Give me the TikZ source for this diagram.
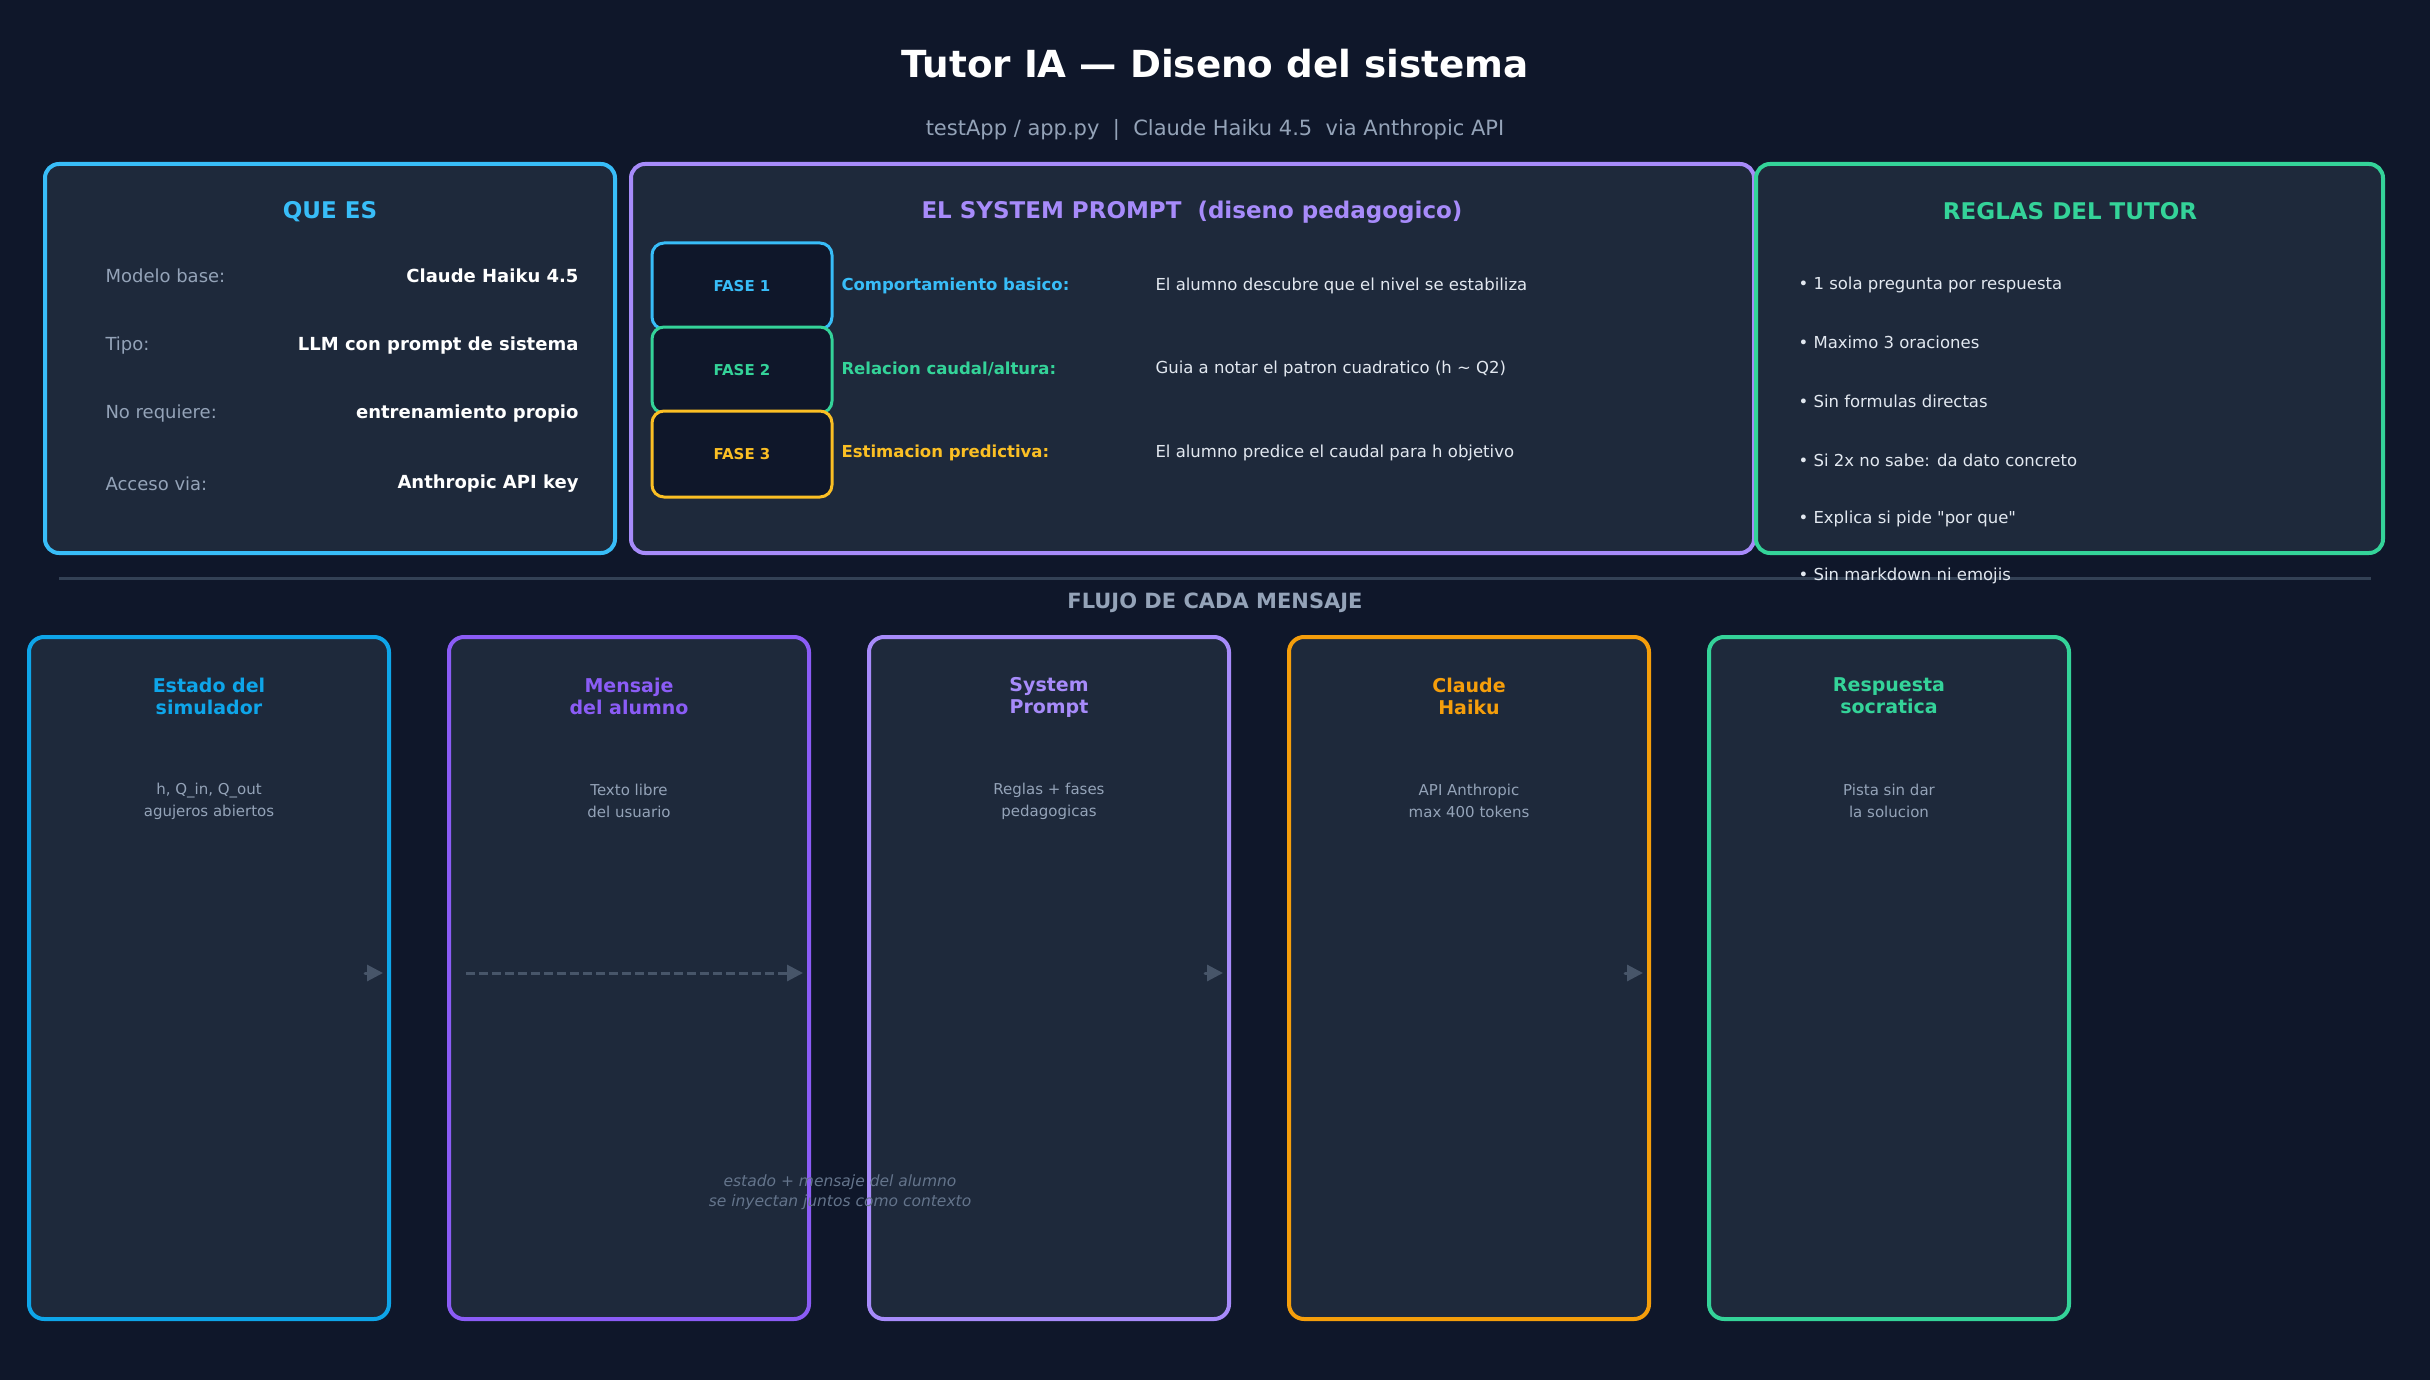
\documentclass[tikz,border=0pt]{standalone}
\usepackage{fontspec}
\setmainfont{DejaVu Sans}[Ligatures=TeXOff]
\usetikzlibrary{arrows.meta,positioning,calc}

\definecolor{bgdark}{HTML}{0F172A}
\definecolor{panelbg}{HTML}{1E293B}
\definecolor{skyc}{HTML}{38BDF8}
\definecolor{skyd}{HTML}{0EA5E9}
\definecolor{violetc}{HTML}{A78BFA}
\definecolor{violetd}{HTML}{8B5CF6}
\definecolor{greenc}{HTML}{34D399}
\definecolor{amberc}{HTML}{FBBF24}
\definecolor{amberd}{HTML}{F59E0B}
\definecolor{mutedc}{HTML}{94A3B8}
\definecolor{lightc}{HTML}{E2E8F0}
\definecolor{rulec}{HTML}{334155}
\definecolor{arrowc}{HTML}{475569}
\definecolor{notec}{HTML}{64748B}

\newcommand{\fs}[1]{\fontsize{#1}{#1}\selectfont}

\begin{document}
\begin{tikzpicture}[x=1pt,y=-1pt,line cap=round,line join=round,
    panel/.style={draw=#1,fill=panelbg,line width=4pt,rounded corners=14pt,inner sep=0pt},
    fasebox/.style={draw=#1,fill=bgdark,line width=3pt,rounded corners=12pt,inner sep=0pt,
        minimum width=180pt,minimum height=86pt,text=#1,font=\bfseries\fs{15}},
    flowbox/.style={draw=#1,fill=panelbg,line width=4pt,rounded corners=15pt,inner sep=0pt,
        minimum width=360pt,minimum height=682pt},
    ptitle/.style={font=\bfseries\fs{23},text=#1},
    keytxt/.style={anchor=west,font=\fs{18},text=mutedc},
    valtxt/.style={anchor=east,font=\bfseries\fs{18},text=white},
    fasename/.style={anchor=west,font=\bfseries\fs{16.5},text=#1},
    fasedesc/.style={anchor=west,font=\fs{16.5},text=lightc},
    rule/.style={anchor=west,font=\fs{16.5},text=lightc},
    ftitle/.style={align=center,font=\bfseries\fontsize{19}{22}\selectfont,text=#1},
    fsub/.style={align=center,font=\fontsize{15}{22}\selectfont,text=mutedc},
    flow/.style={draw=arrowc,line width=3pt,-{Triangle[length=16pt,width=16pt]}}]

% background
\fill[bgdark] (0,0) rectangle (2430,1380);
\useasboundingbox (0,0) rectangle (2430,1380);

% header
\node[font=\bfseries\fs{37.3},text=white] (title) at (1215,64) {Tutor IA — Diseno del sistema};
\node[font=\fs{21},text=mutedc] (subtitle) at (1215,130) {testApp / app.py \ | \ Claude Haiku 4.5 \ via Anthropic API};

% top row panels
\node[panel=skyc,minimum width=570pt,minimum height=389pt] (quees) at (330,358.5) {};
\node[panel=violetc,minimum width=1123pt,minimum height=389pt] (prompt) at (1192.5,358.5) {};
\node[panel=greenc,minimum width=627pt,minimum height=389pt] (reglas) at (2069.5,358.5) {};

% que es
\node[ptitle=skyc] (quees-t) at (330,212) {QUE ES};
\node[keytxt] (k1) at (102,276) {Modelo base:};
\node[valtxt] (v1) at (582,276) {Claude Haiku 4.5};
\node[keytxt] (k2) at (102,346) {Tipo:};
\node[valtxt] (v2) at (582,346) {LLM con prompt de sistema};
\node[keytxt] (k3) at (102,414) {No requiere:};
\node[valtxt] (v3) at (582,414) {entrenamiento propio};
\node[keytxt] (k4) at (102,484) {Acceso via:};
\node[valtxt] (v4) at (582,484) {Anthropic API key};

% system prompt with the three phases
\node[ptitle=violetc] (prompt-t) at (1192,212) {EL SYSTEM PROMPT \ (diseno pedagogico)};
\node[fasebox=skyc] (f1) at (742,286) {FASE 1};
\node[fasebox=greenc] (f2) at (742,370) {FASE 2};
\node[fasebox=amberc] (f3) at (742,454) {FASE 3};
\node[fasename=skyc] (n1) at (838,285.5) {Comportamiento basico:};
\node[fasename=greenc] (n2) at (838,368.5) {Relacion caudal/altura:};
\node[fasename=amberc] (n3) at (838,452.5) {Estimacion predictiva:};
\node[fasedesc] (d1) at (1152,285.5) {El alumno descubre que el nivel se estabiliza};
\node[fasedesc] (d2) at (1152,368.5) {Guia a notar el patron cuadratico (h \textasciitilde{} Q2)};
\node[fasedesc] (d3) at (1152,452.5) {El alumno predice el caudal para h objetivo};

% tutor rules
\node[ptitle=greenc] (reglas-t) at (2070,211) {REGLAS DEL TUTOR};
\node[rule] (r1) at (1795,285) {• 1 sola pregunta por respuesta};
\node[rule] (r2) at (1795,342) {• Maximo 3 oraciones};
\node[rule] (r3) at (1795,401) {• Sin formulas directas};
\node[rule] (r4) at (1795,460) {• Si 2x no sabe: da dato concreto};
\node[rule] (r5) at (1795,519) {• Explica si pide "por que"};

% divider
\draw[rulec,line width=3pt,line cap=butt] (59,578) -- (2371,578);
\node[rule] (r6) at (1795,576) {• Sin markdown ni emojis};
\node[font=\bfseries\fs{21},text=mutedc] (flujo) at (1215,603) {FLUJO DE CADA MENSAJE};

% message flow
\node[flowbox=skyd] (s1) at (209,978) {};
\node[flowbox=violetd] (s2) at (629,978) {};
\node[flowbox=violetc] (s3) at (1049,978) {};
\node[flowbox=amberd] (s4) at (1469,978) {};
\node[flowbox=greenc] (s5) at (1889,978) {};

\node[ftitle=skyd] (s1-t) at (209,696) {Estado del\\simulador};
\node[fsub] (s1-s) at (209,801) {h, Q\_in, Q\_out\\agujeros abiertos};
\node[ftitle=violetd] (s2-t) at (629,696) {Mensaje\\del alumno};
\node[fsub] (s2-s) at (629,801) {Texto libre\\del usuario};
\node[ftitle=violetc] (s3-t) at (1049,697.5) {System\\Prompt};
\node[fsub] (s3-s) at (1049,801) {Reglas + fases\\pedagogicas};
\node[ftitle=amberd] (s4-t) at (1469,696) {Claude\\Haiku};
\node[fsub] (s4-s) at (1469,801) {API Anthropic\\max 400 tokens};
\node[ftitle=greenc] (s5-t) at (1889,696) {Respuesta\\socratica};
\node[fsub] (s5-s) at (1889,801) {Pista sin dar\\la solucion};

\draw[flow] ($(s1.east)+(-26,-5)$) -- ($(s1.east)+(-8,-5)$);
\draw[flow,dash pattern=on 9pt off 4pt,line cap=butt] ($(s2.west)+(19,-5)$) -- ($(s2.east)+(-8,-5)$);
\draw[flow] ($(s3.east)+(-26,-5)$) -- ($(s3.east)+(-8,-5)$);
\draw[flow] ($(s4.east)+(-26,-5)$) -- ($(s4.east)+(-8,-5)$);

\node[align=center,font=\itshape\fontsize{15.5}{19.5}\selectfont,text=notec] (nota) at (840,1192)
    {estado + mensaje del alumno\\se inyectan juntos como contexto};
\end{tikzpicture}
\end{document}
